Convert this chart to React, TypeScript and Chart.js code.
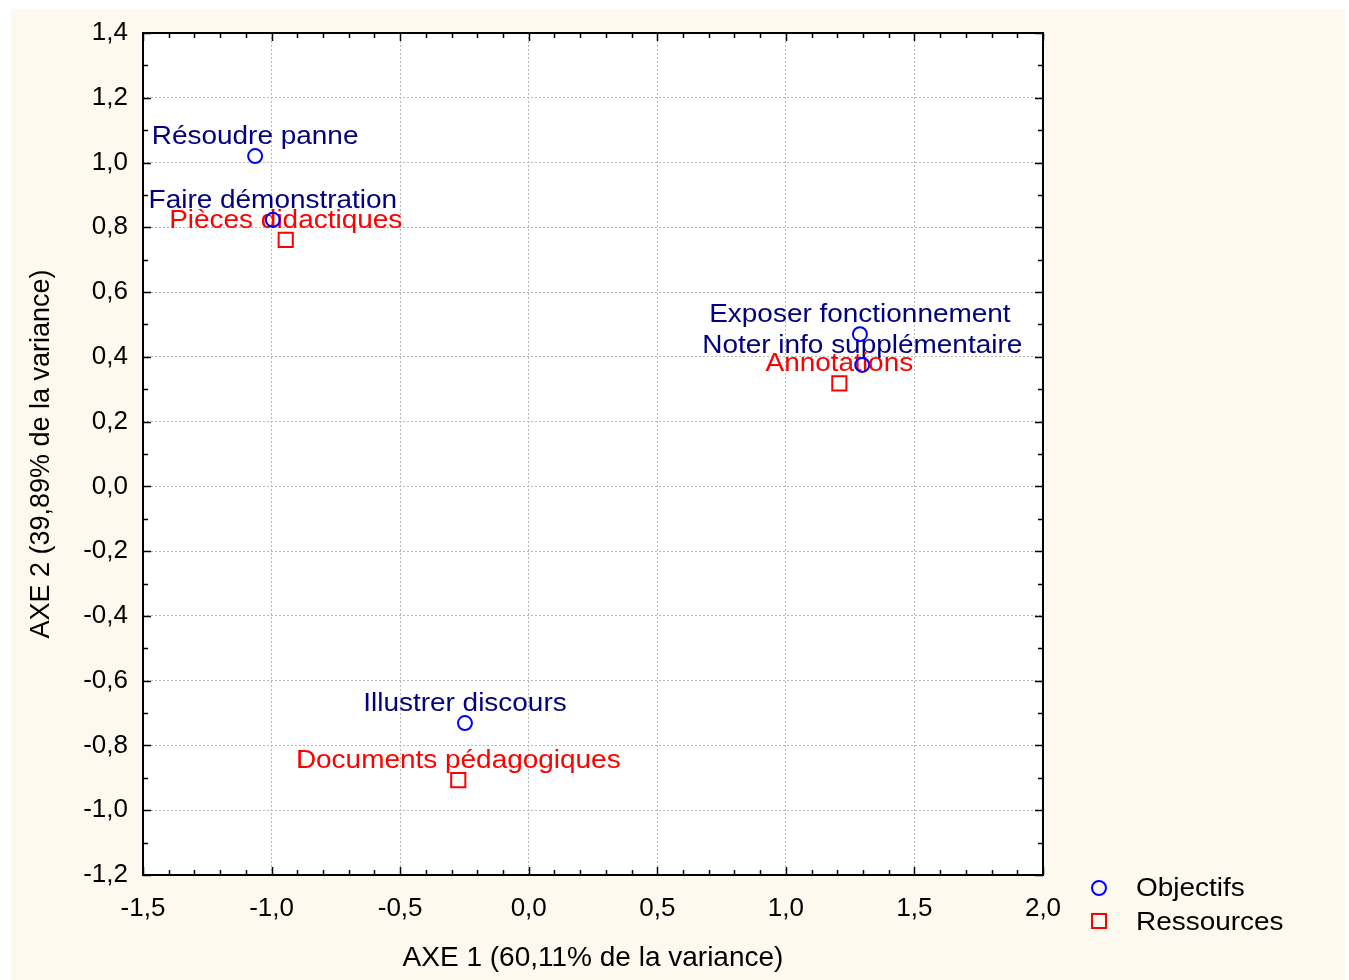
import React, { useEffect, useRef } from "react";
import { Chart, registerables } from "chart.js";

Chart.register(...registerables);

// ---- Data ----
const seriesNames = ["Objectifs", "Ressources"];

const objLabels = [
  "Résoudre panne",
  "Faire démonstration",
  "Exposer fonctionnement",
  "Noter info supplémentaire",
  "Illustrer discours",
];
const objX = [-1.064, -0.995, 1.288, 1.297, -0.248];
const objY = [1.02, 0.823, 0.47, 0.375, -0.731];

const resLabels = ["Pièces didactiques", "Annotations", "Documents pédagogiques"];
const resX = [-0.945, 1.208, -0.274];
const resY = [0.761, 0.318, -0.907];

const xAxisTitle = "AXE 1 (60,11% de la variance)";
const yAxisTitle = "AXE 2 (39,89% de la variance)";
const xMin = -1.5, xMax = 2.0, xStep = 0.5, xMinor = 0.1;
const yMin = -1.2, yMax = 1.4, yStep = 0.2, yMinor = 0.1;

const FONT = "Arial, 'Liberation Sans', sans-serif";
const CREAM = "#FDF9EE";
const STRETCH = 1.075;

const fmt = (v: number) => {
  const n = Math.abs(v) < 1e-9 ? 0 : v;
  return n.toFixed(1).replace(".", ",");
};

function stretchedText(ctx: any, text: string, x: number, y: number, align: string) {
  ctx.save();
  ctx.translate(x, y);
  ctx.scale(STRETCH, 1);
  ctx.textAlign = align;
  ctx.textBaseline = "middle";
  ctx.fillText(text, 0, 0);
  ctx.restore();
}

const pointLabelsPlugin = {
  id: "pointLabels",
  beforeDatasetsDraw(chart: any) {
    const ctx = chart.ctx;
    ctx.save();
    ctx.font = `26px ${FONT}`;
    chart.data.datasets.forEach((ds: any, di: number) => {
      const meta = chart.getDatasetMeta(di);
      ctx.fillStyle = ds.labelColor;
      meta.data.forEach((el: any, i: number) => {
        stretchedText(ctx, ds.pointLabels[i], el.x, el.y - 19.5, "center");
      });
    });
    ctx.restore();
  },
};

const framePlugin = {
  id: "frame",
  beforeDraw(chart: any) {
    const ctx = chart.ctx;
    const a = chart.chartArea;
    ctx.save();
    ctx.fillStyle = "#ffffff";
    ctx.fillRect(0, 0, chart.width, chart.height);
    ctx.fillStyle = CREAM;
    ctx.fillRect(11, 9, 1334, 971);
    ctx.fillStyle = "#ffffff";
    ctx.fillRect(a.left, a.top, a.right - a.left, a.bottom - a.top);
    ctx.restore();
  },
  afterDraw(chart: any) {
    const ctx = chart.ctx;
    const a = chart.chartArea;
    const xs = chart.scales.x;
    const ys = chart.scales.y;
    ctx.save();
    ctx.strokeStyle = "#000000";
    ctx.lineWidth = 1.5;
    const nx = Math.round((xMax - xMin) / xMinor);
    for (let i = 0; i <= nx; i++) {
      const v = xMin + i * xMinor;
      const px = Math.round(xs.getPixelForValue(v)) + 0.5;
      const major = Math.abs(v / xStep - Math.round(v / xStep)) < 1e-6;
      const len = major ? 8 : 5;
      ctx.beginPath();
      ctx.moveTo(px, a.bottom);
      ctx.lineTo(px, a.bottom - len);
      ctx.moveTo(px, a.top);
      ctx.lineTo(px, a.top + len);
      ctx.stroke();
    }
    const ny = Math.round((yMax - yMin) / yMinor);
    for (let i = 0; i <= ny; i++) {
      const v = yMin + i * yMinor;
      const py = Math.round(ys.getPixelForValue(v)) + 0.5;
      const major = Math.abs(v / yStep - Math.round(v / yStep)) < 1e-6;
      const len = major ? 8 : 5;
      ctx.beginPath();
      ctx.moveTo(a.left, py);
      ctx.lineTo(a.left + len, py);
      ctx.moveTo(a.right, py);
      ctx.lineTo(a.right - len, py);
      ctx.stroke();
    }
    ctx.lineWidth = 2;
    ctx.strokeRect(a.left, a.top, a.right - a.left, a.bottom - a.top);

    // legend
    const ds = chart.data.datasets;
    ctx.lineWidth = 2;
    ctx.strokeStyle = ds[0].borderColor;
    ctx.beginPath();
    ctx.arc(1099, 888, 7, 0, Math.PI * 2);
    ctx.stroke();
    ctx.strokeStyle = ds[1].borderColor;
    ctx.strokeRect(1092, 914, 14, 14);
    ctx.fillStyle = "#000000";
    ctx.font = `26px ${FONT}`;
    stretchedText(ctx, ds[0].label, 1136, 889, "left");
    stretchedText(ctx, ds[1].label, 1136, 923, "left");
    ctx.restore();
  },
};

export default function App() {
  const ref = useRef<HTMLCanvasElement | null>(null);
  useEffect(() => {
    if (!ref.current) return;
    const chart = new Chart(ref.current, {
      type: "scatter",
      data: {
        datasets: [
          {
            label: seriesNames[0],
            data: objX.map((x, i) => ({ x, y: objY[i] })),
            pointStyle: "circle",
            pointRadius: 7,
            pointBorderWidth: 2,
            borderColor: "#0000FF",
            backgroundColor: "rgba(0,0,0,0)",
            pointBackgroundColor: "rgba(0,0,0,0)",
            pointBorderColor: "#0000FF",
            pointLabels: objLabels,
            labelColor: "#000080",
          } as any,
          {
            label: seriesNames[1],
            data: resX.map((x, i) => ({ x, y: resY[i] })),
            pointStyle: "rect",
            pointRadius: 10,
            pointBorderWidth: 2,
            borderColor: "#FF0000",
            backgroundColor: "rgba(0,0,0,0)",
            pointBackgroundColor: "rgba(0,0,0,0)",
            pointBorderColor: "#FF0000",
            pointLabels: resLabels,
            labelColor: "#FF0000",
          } as any,
        ],
      },
      options: {
        responsive: false,
        animation: false,
        devicePixelRatio: 1,
        layout: { padding: { top: 33, right: 306, left: 0, bottom: 0 } },
        plugins: {
          legend: { display: false },
          tooltip: { enabled: false },
        },
        scales: {
          x: {
            type: "linear",
            min: xMin,
            max: xMax,
            afterFit: (s: any) => {
              s.height = 105;
            },
            ticks: {
              stepSize: xStep,
              color: "#000000",
              font: { family: FONT, size: 26 },
              padding: 18,
              callback: (v: any) => fmt(Number(v)),
            },
            grid: {
              color: "#b8b8b8",
              lineWidth: 1,
              drawTicks: false,
            },
            border: { display: false, dash: [2, 2] },
            title: {
              display: true,
              text: xAxisTitle,
              color: "#000000",
              font: { family: FONT, size: 28 },
              padding: { top: 0, bottom: 5 },
            },
          },
          y: {
            type: "linear",
            min: yMin,
            max: yMax,
            afterFit: (s: any) => {
              s.width = 143;
            },
            ticks: {
              stepSize: yStep,
              color: "#000000",
              font: { family: FONT, size: 26 },
              padding: 15,
              callback: (v: any) => fmt(Number(v)),
            },
            grid: {
              color: "#b8b8b8",
              lineWidth: 1,
              drawTicks: false,
            },
            border: { display: false, dash: [2, 2] },
            title: {
              display: true,
              text: yAxisTitle,
              color: "#000000",
              font: { family: FONT, size: 27 },
              padding: { top: 25, bottom: 0 },
            },
          },
        },
      } as any,
      plugins: [framePlugin, pointLabelsPlugin],
    });
    return () => chart.destroy();
  }, []);

  return (
    <div style={{ position: "absolute", left: 0, top: 0, width: 1349, height: 980 }}>
      <canvas ref={ref} width={1349} height={980} style={{ display: "block", width: 1349, height: 980 }} />
    </div>
  );
}
